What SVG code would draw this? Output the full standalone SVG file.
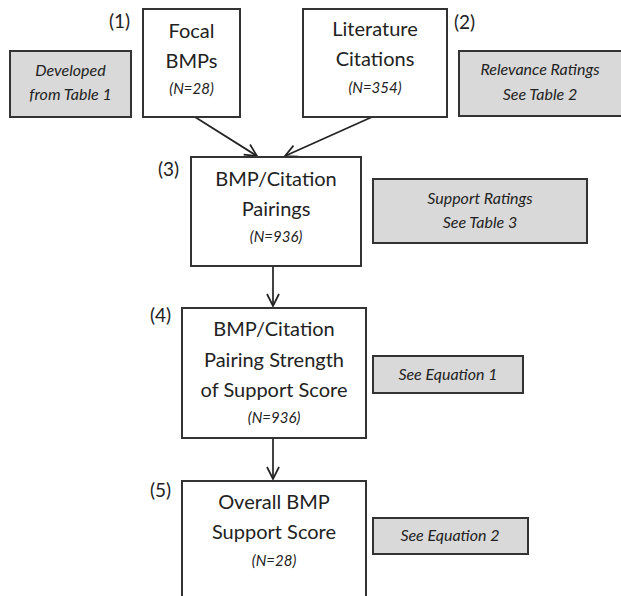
<svg xmlns="http://www.w3.org/2000/svg" width="621" height="596" viewBox="0 0 621 596">
<defs>
<marker id="arr" viewBox="0 0 14 14" refX="13" refY="7" markerWidth="14" markerHeight="14" markerUnits="userSpaceOnUse" orient="auto">
<path d="M1,1 L13,7 L1,13" fill="none" stroke="#222" stroke-width="1.7"/>
</marker>
<style>
.box{fill:#fff;stroke:#333;stroke-width:2}
.gbox{fill:#d9d9d9;stroke:#333;stroke-width:2}
.t{font-family:Lato,"Liberation Sans",Arial,sans-serif;font-size:20px;fill:#222;text-anchor:middle}
.n{font-family:Lato,"Liberation Sans",Arial,sans-serif;font-size:15px;font-style:italic;fill:#222;text-anchor:middle}
.g{font-family:Lato,"Liberation Sans",Arial,sans-serif;font-size:16px;font-style:italic;fill:#222;text-anchor:middle}
.lab{font-family:Lato,"Liberation Sans",Arial,sans-serif;font-size:19px;fill:#222}
.c{stroke:#222;stroke-width:1.7;fill:none;marker-end:url(#arr)}
</style>
</defs>
<rect width="621" height="596" fill="#fff"/>
<g id="connectors">
<line class="c" x1="195" y1="117" x2="257" y2="156"/>
<line class="c" x1="372" y1="117" x2="285" y2="156"/>
<line class="c" x1="273" y1="266" x2="273" y2="306"/>
<line class="c" x1="273" y1="438" x2="273" y2="479"/>
</g>
<g id="node1">
<rect class="box" x="143" y="9" width="97" height="108"/>
<text class="t" x="191.5" y="38">Focal</text>
<text class="t" x="191.5" y="68">BMPs</text>
<text class="n" x="191.5" y="94">(N=28)</text>
<text class="lab" x="109" y="28">(1)</text>
</g>
<g id="note1">
<rect class="gbox" x="10" y="51" width="121" height="66"/>
<text class="g" x="70.5" y="76">Developed</text>
<text class="g" x="70.5" y="100">from Table 1</text>
</g>
<g id="node2">
<rect class="box" x="303" y="9" width="144" height="108"/>
<text class="t" x="375" y="36">Literature</text>
<text class="t" x="375" y="66">Citations</text>
<text class="n" x="375" y="93">(N=354)</text>
<text class="lab" x="454" y="29">(2)</text>
</g>
<g id="note2">
<rect class="gbox" x="459" y="51" width="170" height="65"/>
<text class="g" x="540" y="75">Relevance Ratings</text>
<text class="g" x="540" y="100">See Table 2</text>
</g>
<g id="node3">
<rect class="box" x="191" y="157" width="170" height="109"/>
<text class="t" x="276" y="186">BMP/Citation</text>
<text class="t" x="276" y="216">Pairings</text>
<text class="n" x="276" y="242">(N=936)</text>
<text class="lab" x="158" y="176">(3)</text>
</g>
<g id="note3">
<rect class="gbox" x="373" y="179" width="214" height="64"/>
<text class="g" x="480" y="204">Support Ratings</text>
<text class="g" x="480" y="228">See Table 3</text>
</g>
<g id="node4">
<rect class="box" x="182" y="308" width="184" height="130"/>
<text class="t" x="274" y="336">BMP/Citation</text>
<text class="t" x="274" y="367">Pairing Strength</text>
<text class="t" x="274" y="397">of Support Score</text>
<text class="n" x="274" y="423">(N=936)</text>
<text class="lab" x="150" y="322">(4)</text>
</g>
<g id="note4">
<rect class="gbox" x="373" y="356" width="150" height="37"/>
<text class="g" x="448" y="380">See Equation 1</text>
</g>
<g id="node5">
<path class="box" d="M182,600 L182,481 L366,481 L366,600"/>
<text class="t" x="274" y="509">Overall BMP</text>
<text class="t" x="274" y="539">Support Score</text>
<text class="n" x="274" y="566">(N=28)</text>
<text class="lab" x="150" y="497">(5)</text>
</g>
<g id="note5">
<rect class="gbox" x="373" y="518" width="155" height="36"/>
<text class="g" x="450" y="541">See Equation 2</text>
</g>
</svg>
